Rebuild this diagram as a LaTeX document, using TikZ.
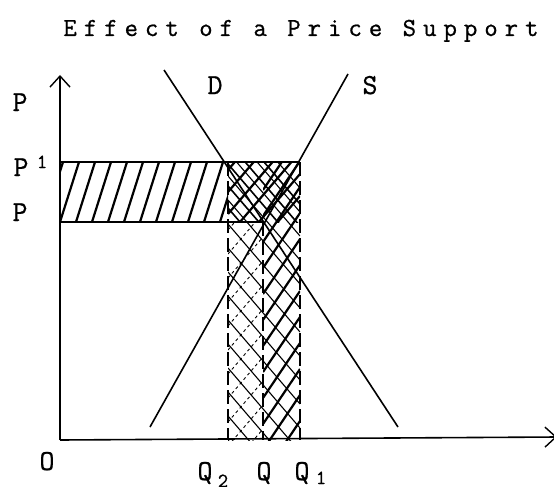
\documentclass[tikz,border=0pt]{standalone}
\usepackage{fontspec}
\newfontfamily\tw[FakeBold=0.8]{Latin Modern Mono}
\newfontfamily\twsp[LetterSpace=27,FakeBold=0.8]{Latin Modern Mono}
\usetikzlibrary{arrows.meta}
\begin{document}
\begin{tikzpicture}[x=1pt,y=-1pt,
  lbl/.style={font=\tw\fontsize{29}{29}\selectfont, anchor=base, inner sep=0pt},
  idx/.style={font=\tw\fontsize{20}{20}\selectfont, anchor=base, inner sep=0pt},
  axis/.style={line width=1.6pt, -{Straight Barb[length=11pt,width=20pt,line width=1.4pt]}},
  curve/.style={line width=1.6pt},
  edge/.style={line width=1.7pt},
  hbold/.style={line width=2.2pt},
  hthin/.style={line width=1.1pt},
  hdash/.style={line width=0.9pt, dash pattern=on 3pt off 3pt},
  vdash/.style={line width=1.8pt, dash pattern=on 14pt off 5pt}]
\useasboundingbox (0,0) rectangle (554,487);
\fill[white] (0,0) rectangle (554,487);
% title
\node[font=\twsp\fontsize{26}{26}\selectfont, anchor=base, inner sep=0pt] (title) at (301,36) {Effect of a Price Support};
% named points
\coordinate (O) at (60,440);
\coordinate (Ytop) at (60,75);
\coordinate (Xend) at (557,437);
\coordinate (Dtop) at (164,70);
\coordinate (Dbot) at (398,427);
\coordinate (Stop) at (348,74);
\coordinate (Sbot) at (150,427);
\coordinate (P1L) at (60,162);
\coordinate (P1R) at (300,162);
\coordinate (PL) at (60,222);
\coordinate (PR) at (263,222);
\coordinate (Q2t) at (228,162);
\coordinate (Q2b) at (228,440);
\coordinate (Qt) at (263,222);
\coordinate (Qb) at (263,440);
\coordinate (Q1t) at (300,162);
\coordinate (Q1b) at (300,440);
% hatch of the left box
\begin{scope}
  \clip (60,162) rectangle (228,222);
  \foreach \x in {28,44,...,250} \draw[hbold] (\x,222) -- (\x+19,162);
\end{scope}
% crosshatch over the strip Q2..Q1
\begin{scope}
  \clip (228,162) rectangle (300,440);
  \foreach \y in {80,104,...,450} \draw[hthin] (228,\y) -- (300,\y+84);
\end{scope}
\begin{scope}
  \clip (228,222) rectangle (263,440);
  \foreach \y in {230,254,...,480} \draw[hdash] (228,\y) -- (263,\y-41);
\end{scope}
\begin{scope}
  \clip (263,162) rectangle (300,440);
  \foreach \y in {190,216,...,480} \draw[hbold] (263,\y) -- (300,\y-55);
\end{scope}
\begin{scope}
  \clip (228,162) rectangle (300,222);
  \foreach \y in {170,192,...,300} \draw[hbold] (228,\y) -- (300,\y-84);
  \foreach \y in {120,142,...,230} \draw[line width=1.6pt] (228,\y) -- (300,\y+84);
\end{scope}
% box edges
\draw[edge] (P1L) -- (P1R);
\draw[edge] (PL) -- (PR);
\draw[vdash] (Q2t) -- (Q2b);
\draw[vdash] (Qt) -- (Qb);
\draw[vdash, line width=1.2pt] (Q1t) -- (Q1b);
% curves
\draw[curve] (Dtop) -- (Dbot);
\draw[curve] (Sbot) -- (Stop);
% axes
\draw[axis] (O) -- (Ytop);
\draw[axis] (O) -- (Xend);
% labels
\node[lbl] (Pa) at (20,111) {P};
\node[lbl] (P1) at (21,176) {P};
\node[idx] (P1i) at (42,168) {1};
\node[lbl] (Pb) at (20,221) {P};
\node[lbl] (Ol) at (47,470) {O};
\node[lbl] (Q2l) at (205,480) {Q};
\node[idx] (Q2i) at (223,487) {2};
\node[lbl] (Ql) at (264,480) {Q};
\node[lbl] (Q1l) at (302,480) {Q};
\node[idx] (Q1i) at (321,484) {1};
\node[lbl] (Qx) at (563,469) {Q};
\node[lbl] (Dl) at (215,94) {D};
\node[lbl] (Sl) at (370,94) {S};
\end{tikzpicture}
\end{document}
